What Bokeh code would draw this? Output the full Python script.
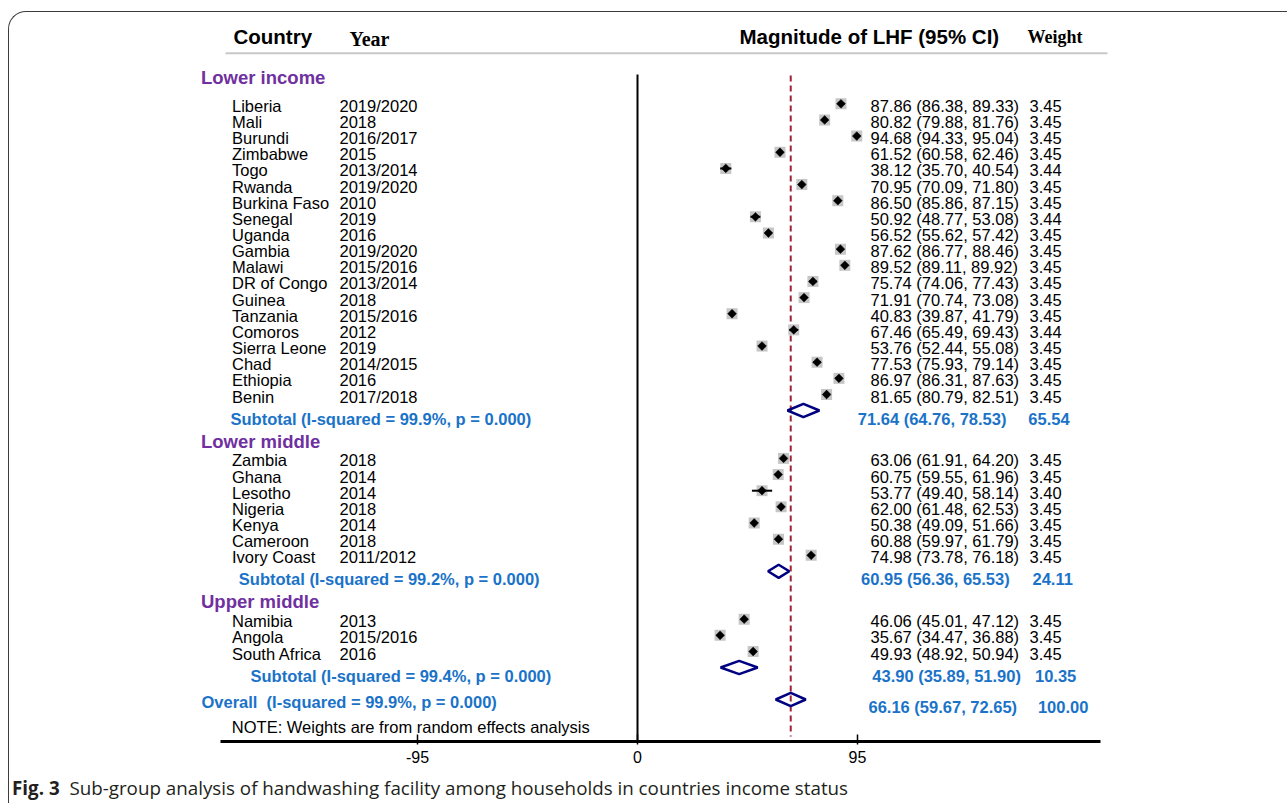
import math
from bokeh.plotting import figure
from bokeh.models import Range1d, LinearAxis, FixedTicker, ColumnDataSource, Div
from bokeh.layouts import column
from bokeh.core.properties import value
from bokeh.embed import file_html
from bokeh.resources import INLINE

# ---------------- data ----------------
group_names = ["Lower income", "Lower middle", "Upper middle"]

low_countries = ["Liberia", "Mali", "Burundi", "Zimbabwe", "Togo", "Rwanda", "Burkina Faso",
                 "Senegal", "Uganda", "Gambia", "Malawi", "DR of Congo", "Guinea", "Tanzania",
                 "Comoros", "Sierra Leone", "Chad", "Ethiopia", "Benin"]
low_years = ["2019/2020", "2018", "2016/2017", "2015", "2013/2014", "2019/2020", "2010",
             "2019", "2016", "2019/2020", "2015/2016", "2013/2014", "2018", "2015/2016",
             "2012", "2019", "2014/2015", "2016", "2017/2018"]
low_est = [87.86, 80.82, 94.68, 61.52, 38.12, 70.95, 86.50, 50.92, 56.52, 87.62, 89.52,
           75.74, 71.91, 40.83, 67.46, 53.76, 77.53, 86.97, 81.65]
low_lo = [86.38, 79.88, 94.33, 60.58, 35.70, 70.09, 85.86, 48.77, 55.62, 86.77, 89.11,
          74.06, 70.74, 39.87, 65.49, 52.44, 75.93, 86.31, 80.79]
low_hi = [89.33, 81.76, 95.04, 62.46, 40.54, 71.80, 87.15, 53.08, 57.42, 88.46, 89.92,
          77.43, 73.08, 41.79, 69.43, 55.08, 79.14, 87.63, 82.51]
low_w = [3.45, 3.45, 3.45, 3.45, 3.44, 3.45, 3.45, 3.44, 3.45, 3.45, 3.45,
         3.45, 3.45, 3.45, 3.44, 3.45, 3.45, 3.45, 3.45]

mid_countries = ["Zambia", "Ghana", "Lesotho", "Nigeria", "Kenya", "Cameroon", "Ivory Coast"]
mid_years = ["2018", "2014", "2014", "2018", "2014", "2018", "2011/2012"]
mid_est = [63.06, 60.75, 53.77, 62.00, 50.38, 60.88, 74.98]
mid_lo = [61.91, 59.55, 49.40, 61.48, 49.09, 59.97, 73.78]
mid_hi = [64.20, 61.96, 58.14, 62.53, 51.66, 61.79, 76.18]
mid_w = [3.45, 3.45, 3.40, 3.45, 3.45, 3.45, 3.45]

up_countries = ["Namibia", "Angola", "South Africa"]
up_years = ["2013", "2015/2016", "2016"]
up_est = [46.06, 35.67, 49.93]
up_lo = [45.01, 34.47, 48.92]
up_hi = [47.12, 36.88, 50.94]
up_w = [3.45, 3.45, 3.45]

sub_est = [71.64, 60.95, 43.90]
sub_lo = [64.76, 56.36, 35.89]
sub_hi = [78.53, 65.53, 51.90]
sub_w = [65.54, 24.11, 10.35]
sub_i2 = [99.9, 99.2, 99.4]
sub_p = [0.000, 0.000, 0.000]

overall_est, overall_lo, overall_hi, overall_w = 66.16, 59.67, 72.65, 100.00
overall_i2, overall_p = 99.9, 0.000

axis_ticks = [-95, 0, 95]

caption_bold = "Fig. 3"
caption_text = "Sub-group analysis of handwashing facility among households in countries income status"

# ---------------- layout constants ----------------
ZERO_PX = 637.0        # picture x of value 0
PX_PER_UNIT = 2.316    # pixels per unit on x
PAGE_LEFT, PAGE_TOP = 9, 12
W = 1270
AXIS_PAGE_Y = 741
BOTTOM = 31
H = AXIS_PAGE_Y - PAGE_TOP + BOTTOM


def xv(px):
    return (px - ZERO_PX) / PX_PER_UNIT


SANS = value("Liberation Sans")
SERIF = value("Liberation Serif")
BLUE = "#1a73c8"
PURPLE = "#7030a0"
FS = "16.5px"

p = figure(width=W, height=H,
           x_range=Range1d(xv(PAGE_LEFT), xv(PAGE_LEFT + W)),
           y_range=Range1d(AXIS_PAGE_Y, PAGE_TOP),
           output_backend="svg", toolbar_location=None,
           x_axis_location=None, y_axis_location=None,
           min_border_left=0, min_border_right=0, min_border_top=0,
           min_border_bottom=BOTTOM)
p.outline_line_color = None
p.xgrid.visible = False
p.ygrid.visible = False
p.background_fill_color = None
p.border_fill_color = None

axis = LinearAxis(ticker=FixedTicker(ticks=axis_ticks), bounds=(xv(220), xv(1100)))
axis.axis_line_width = 3
axis.axis_line_color = "black"
axis.major_tick_line_width = 1.5
axis.major_tick_in = 7
axis.major_tick_out = 3
axis.minor_tick_line_color = None
axis.major_label_text_font = "Liberation Sans"
axis.major_label_text_font_size = "16px"
axis.major_label_text_color = "black"
axis.major_label_standoff = 6
axis.major_label_overrides = {t: str(t) for t in axis_ticks}
p.add_layout(axis, "below")

# ---------------- row positions ----------------
STEP = 16.15
groups = [
    (low_countries, low_years, low_est, low_lo, low_hi, low_w),
    (mid_countries, mid_years, mid_est, mid_lo, mid_hi, mid_w),
    (up_countries, up_years, up_est, up_lo, up_hi, up_w),
]
header_y, sub_y = [], []
rows = dict(country=[], year=[], est=[], lo=[], hi=[], w=[], y=[], stats=[], wtxt=[])
y = 103.3
for gi, (c, yr, e, lo, hi, w) in enumerate(groups):
    header_y.append(y - (26.3 if gi == 0 else 17.4))
    for i in range(len(c)):
        rows["country"].append(c[i]); rows["year"].append(yr[i])
        rows["est"].append(e[i]); rows["lo"].append(lo[i]); rows["hi"].append(hi[i])
        rows["w"].append(w[i]); rows["y"].append(y)
        rows["stats"].append(f"{e[i]:.2f} ({lo[i]:.2f}, {hi[i]:.2f})")
        rows["wtxt"].append(f"{w[i]:.2f}")
        y += STEP
    y = y - STEP + 16.0
    sub_y.append(y)
    y += 30.5 + 17.4
overall_y = sub_y[-1] + 32.0
note_y = overall_y + 27.0

rows["ty"] = [v + 2.0 for v in rows["y"]]
rows["size"] = [11.0 * math.sqrt(w / 3.45) for w in rows["w"]]
src = ColumnDataSource(rows)

# ---------------- reference lines ----------------
p.segment(x0=[0], x1=[0], y0=[74], y1=[AXIS_PAGE_Y], line_color="black", line_width=2)
p.segment(x0=[overall_est], x1=[overall_est], y0=[75], y1=[736],
          line_color="#9e2334", line_width=2, line_dash="6 4")

# header rule
p.segment(x0=[xv(225)], x1=[xv(1107)], y0=[52.7], y1=[52.7], line_color="#c8c8c8", line_width=2)

# ---------------- study markers ----------------
p.scatter(x="est", y="y", size="size", marker="square", fill_color="#c6c6c6",
          line_color=None, source=src)
p.segment(x0="lo", x1="hi", y0="y", y1="y", line_color="black", line_width=2, source=src)
p.scatter(x="est", y="y", size=6.2, marker="square", angle=math.pi / 4,
          fill_color="black", line_color="black", line_width=0.5, source=src)

# ---------------- pooled diamonds ----------------
DH = 6.6
dxs, dys = [], []
for e, lo, hi, yy in zip(sub_est + [overall_est], sub_lo + [overall_lo],
                         sub_hi + [overall_hi], sub_y + [overall_y]):
    dxs.append([lo, e, hi, e]); dys.append([yy, yy - DH, yy, yy + DH])
p.patches(dxs, dys, fill_alpha=0, line_color="#000080", line_width=2.5)

# ---------------- texts ----------------
common = dict(text_baseline="middle", text_align="left")
p.text(x=xv(231.5), y="ty", text="country", source=src, text_font=SANS,
       text_font_size=FS, text_color="black", **common)
p.text(x=xv(339), y="ty", text="year", source=src, text_font=SANS,
       text_font_size=FS, text_color="black", **common)
p.text(x=xv(870), y="ty", text="stats", source=src, text_font=SANS,
       text_font_size=FS, text_color="black", **common)
p.text(x=xv(1029), y="ty", text="wtxt", source=src, text_font=SANS,
       text_font_size=FS, text_color="black", **common)

# group headers
p.text(x=[xv(200.5)] * 3, y=header_y, text=group_names, text_font=SANS,
       text_font_size="18.5px", text_font_style="bold", text_color=PURPLE, **common)

# subtotal texts
sub_label_x = [xv(230), xv(238.3), xv(250)]
sub_stats_x = [xv(857.3), xv(860.6), xv(871.8)]
sub_w_x = [xv(1027.8), xv(1032), xv(1034.5)]
sub_ty = [v + 8.0 for v in sub_y]
p.text(x=sub_label_x, y=sub_ty,
       text=[f"Subtotal (I-squared = {i2:.1f}%, p = {pv:.3f})" for i2, pv in zip(sub_i2, sub_p)],
       text_font=SANS, text_font_size=FS, text_font_style="bold", text_color=BLUE, **common)
p.text(x=sub_stats_x, y=sub_ty,
       text=[f"{e:.2f} ({lo:.2f}, {hi:.2f})" for e, lo, hi in zip(sub_est, sub_lo, sub_hi)],
       text_font=SANS, text_font_size=FS, text_font_style="bold", text_color=BLUE, **common)
p.text(x=sub_w_x, y=sub_ty, text=[f"{w:.2f}" for w in sub_w],
       text_font=SANS, text_font_size=FS, text_font_style="bold", text_color=BLUE, **common)

# overall texts
p.text(x=[xv(201)], y=[overall_y + 2.0],
       text=[f"Overall\u00a0 (I-squared = {overall_i2:.1f}%, p = {overall_p:.3f})"],
       text_font=SANS, text_font_size=FS, text_font_style="bold", text_color=BLUE, **common)
p.text(x=[xv(868)], y=[overall_y + 7.7],
       text=[f"{overall_est:.2f} ({overall_lo:.2f}, {overall_hi:.2f})"],
       text_font=SANS, text_font_size=FS, text_font_style="bold", text_color=BLUE, **common)
p.text(x=[xv(1037.4)], y=[overall_y + 7.7], text=[f"{overall_w:.2f}"],
       text_font=SANS, text_font_size=FS, text_font_style="bold", text_color=BLUE, **common)

p.text(x=[xv(231.3)], y=[note_y], text=["NOTE: Weights are from random effects analysis"],
       text_font=SANS, text_font_size=FS, text_color="black", **common)

# column headers
p.text(x=[xv(233), xv(739)], y=[35.5, 35.5], text=["Country", "Magnitude of LHF (95% CI)"],
       text_font=SANS, text_font_size="20.5px", text_font_style="bold", text_color="black", **common)
p.text(x=[xv(349), xv(1027)], y=[38.0, 36.8], text=["Year", "Weight"],
       text_font=SERIF, text_font_size=["20px", "18px"], text_font_style="bold",
       text_color="black", **common)

# caption
cap = Div(text=f"<b>{caption_bold}</b>&nbsp; {caption_text}", width=W, height=22,
          styles={"font-family": "'Open Sans', sans-serif", "font-size": "18.8px",
                  "color": "#231f20", "line-height": "22px", "padding-left": "0px",
                  "text-indent": "-2px", "white-space": "nowrap"})

layout = column(p, cap, spacing=0,
                styles={"border-top": "1px solid #3c3c3c", "border-left": "1px solid #3c3c3c",
                        "border-top-left-radius": "18px", "margin-top": "11px",
                        "margin-left": "8px"})

open("out.html", "w").write(file_html(layout, INLINE))
